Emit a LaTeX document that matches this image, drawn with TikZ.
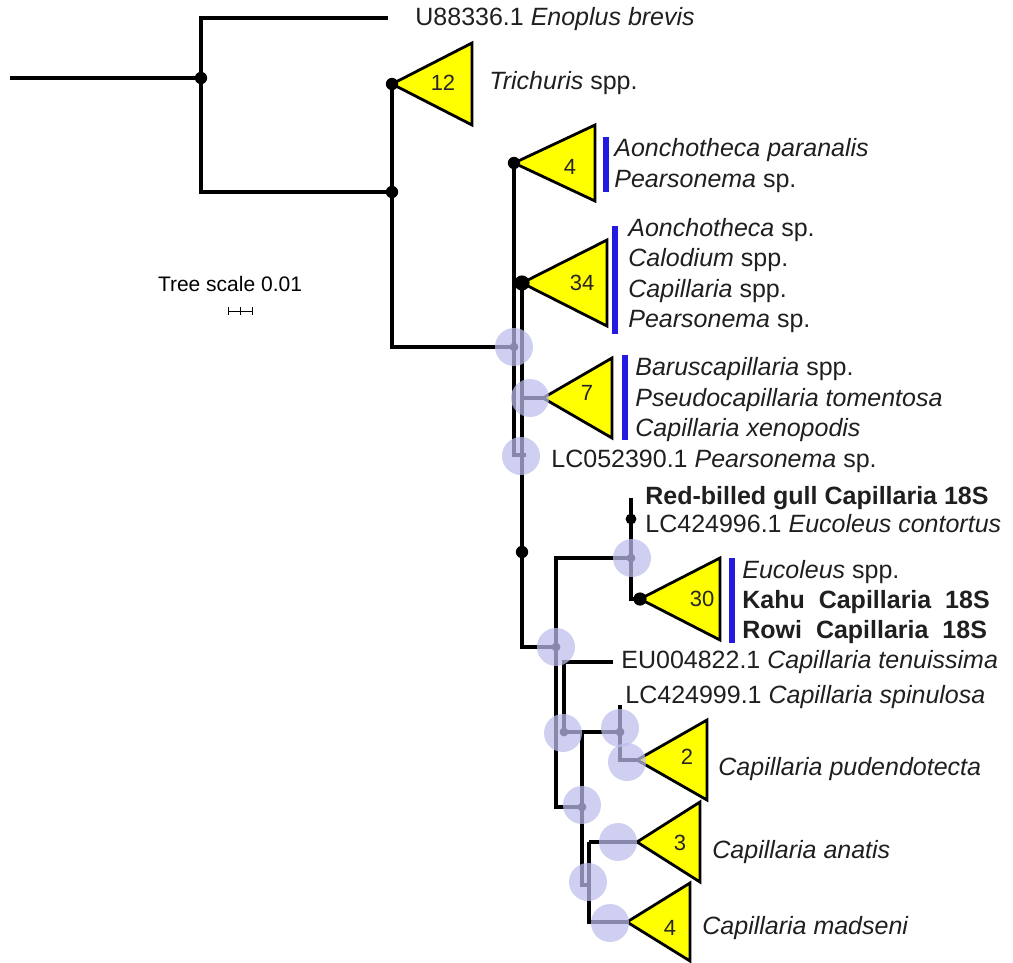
\documentclass[tikz,border=0pt]{standalone}
\usepackage{fontspec}
\setmainfont{Liberation Sans}
\usetikzlibrary{calc}
\definecolor{cladeyellow}{RGB}{255,255,0}
\definecolor{barblue}{RGB}{35,25,225}
\definecolor{supportblue}{RGB}{189,189,236}
% collapsed clade: apex, width, half height, count offset x/y, count
\newcommand{\Clade}[6]{%
  \draw[clade] (#1) -- ++(#2,-#3) -- ++(0,2*#3) -- cycle;
  \node[cladenum] (#1n) at ($(#1)+(#4,#5)$) {#6};}

\begin{document}
\begin{tikzpicture}[x=0.5pt,y=-0.5pt,
  branch/.style={line width=2.2pt},
  thinbranch/.style={line width=1.6pt},
  clade/.style={draw=black,line width=1.4pt,fill=cladeyellow,line join=miter},
  cladenum/.style={font=\fontsize{11}{13}\selectfont,text=black!85},
  leaf/.style={anchor=base west,inner sep=0pt,font=\fontsize{12.5}{15}\selectfont,text=black!88},
  bar/.style={line width=3pt,draw=barblue},
  support/.style={fill=supportblue,fill opacity=0.72}]
\useasboundingbox (0,0) rectangle (1013,963);

% tree nodes
\coordinate (root) at (10,78);
\coordinate (nR) at (201,78);
\coordinate (tEnop) at (388,18);
\coordinate (cTrich) at (392,84);
\coordinate (n1) at (392,192);
\coordinate (n2) at (392,347);
\coordinate (n3) at (514,347);
\coordinate (c4a) at (514,163);
\coordinate (tLC05) at (526,455);
\coordinate (c34) at (522,283);
\coordinate (s7) at (522,398);
\coordinate (c7) at (543,398);
\coordinate (nDot) at (522,552);
\coordinate (n6) at (556,647);
\coordinate (n8) at (631,558);
\coordinate (tGull) at (631,498);
\coordinate (nGull) at (631,519);
\coordinate (c30) at (640,599);
\coordinate (n11) at (582,807);
\coordinate (tEU) at (613,662);
\coordinate (n9) at (564,732);
\coordinate (n10) at (620,732);
\coordinate (k1) at (582,732);
\coordinate (tSpin) at (620,705);
\coordinate (c2) at (637,760);
\coordinate (n12) at (582,885);
\coordinate (n13) at (589,885);
\coordinate (n14) at (589,842);
\coordinate (c3) at (637,842);
\coordinate (c4b) at (627,922);

% branches
\draw[branch] (root) -- (nR);
\draw[branch] (tEnop) -| (nR) |- (n1);
\draw[branch] (cTrich) -- (n2) -- (n3);
\draw[thinbranch] (c4a) |- (tLC05);
\draw[branch] (c34) |- (n6);
\draw[branch] (s7) -- (c7);
\draw[branch] (n6) |- (n8);
\draw[branch] (tGull) |- (c30);
\draw[thinbranch] (n6) |- (n11);
\draw[branch] (tEU) -| (n9) -- (n10);
\draw[branch] (tSpin) |- (c2);
\draw[branch] (k1) -- (n12) -- (n13);
\draw[branch] (n14) -- (c3);
\draw[branch] (n14) |- (c4b);

% collapsed clades
\Clade{cTrich}{80}{41}{51}{-1}{12}
\Clade{c4a}{81}{38}{56}{4}{4}
\Clade{c34}{85}{43}{60}{0}{34}
\Clade{c7}{69}{40}{44}{-5}{7}
\Clade{c30}{80}{41}{62}{0}{30}
\Clade{c2}{70}{40}{50}{-3}{2}
\Clade{c3}{63}{40}{43}{1}{3}
\Clade{c4b}{63}{39}{43}{6}{4}

% node dots
\foreach \p in {nR,cTrich,n1,c4a,nDot} \fill (\p) circle (3.1pt);
\fill (nGull) circle (2.7pt);
\fill (c34) circle (3.8pt);
\fill (c30) circle (3.3pt);

% group bars
\draw[bar] (606,137) -- (606,192);
\draw[bar] (615,226) -- (615,334);
\draw[bar] (625,355) -- (625,440);
\draw[bar] (732,558) -- (732,643);

% labels
\node[leaf] (lEnop) at (415,26) {U88336.1 \textit{Enoplus brevis}};
\node[leaf] (lTrich) at (489,90) {\textit{Trichuris} spp.};
\node[leaf] (lAonPar) at (614,156) {\textit{Aonchotheca paranalis}};
\node[leaf] (lPears1) at (614,188) {\textit{Pearsonema} sp.};
\node[leaf] (lAon) at (628,236) {\textit{Aonchotheca} sp.};
\node[leaf] (lCalo) at (628,266) {\textit{Calodium} spp.};
\node[leaf] (lCap) at (628,297) {\textit{Capillaria} spp.};
\node[leaf] (lPears2) at (628,327) {\textit{Pearsonema} sp.};
\node[leaf] (lBaru) at (635,375) {\textit{Baruscapillaria} spp.};
\node[leaf] (lPseu) at (635,406) {\textit{Pseudocapillaria tomentosa}};
\node[leaf] (lXeno) at (635,436) {\textit{Capillaria xenopodis}};
\node[leaf] (lLC05) at (551,467) {LC052390.1 \textit{Pearsonema} sp.};
\node[leaf] (lGull) at (645,504) {\textbf{Red-billed gull Capillaria 18S}};
\node[leaf] (lCont) at (645,532) {LC424996.1 \textit{Eucoleus contortus}};
\node[leaf] (lEuco) at (742,578) {\textit{Eucoleus} spp.};
\node[leaf] (lKahu) at (742,608) {\textbf{Kahu\ \ Capillaria\ \ 18S}};
\node[leaf] (lRowi) at (742,638) {\textbf{Rowi\ \ Capillaria\ \ 18S}};
\node[leaf] (lEU) at (621,668) {EU004822.1 \textit{Capillaria tenuissima}};
\node[leaf] (lSpin) at (625,703) {LC424999.1 \textit{Capillaria spinulosa}};
\node[leaf] (lPud) at (718,775) {\textit{Capillaria pudendotecta}};
\node[leaf] (lAna) at (712,858) {\textit{Capillaria anatis}};
\node[leaf] (lMad) at (702,934) {\textit{Capillaria madseni}};

% tree scale
\node[anchor=base,inner sep=0pt,font=\fontsize{10.5}{12}\selectfont] (scale) at (230,292) {Tree scale 0.01};
\draw[line width=0.5pt] (228,311) -- (252,311);
\foreach \x in {228,240,252} \draw[line width=0.5pt] (\x,307) -- (\x,315);

% support circles
\foreach \p in {n3,n6,n8,n9,n10,n11} \fill (\p) circle (2.2pt);
\foreach \p/\q in {514/347,530/398,521/456,632/558,556/647,563/733,620/728,627/762,582/805,618/842,588/882,610/923}
  \fill[support] (\p,\q) circle (9.5pt);
\end{tikzpicture}
\end{document}
